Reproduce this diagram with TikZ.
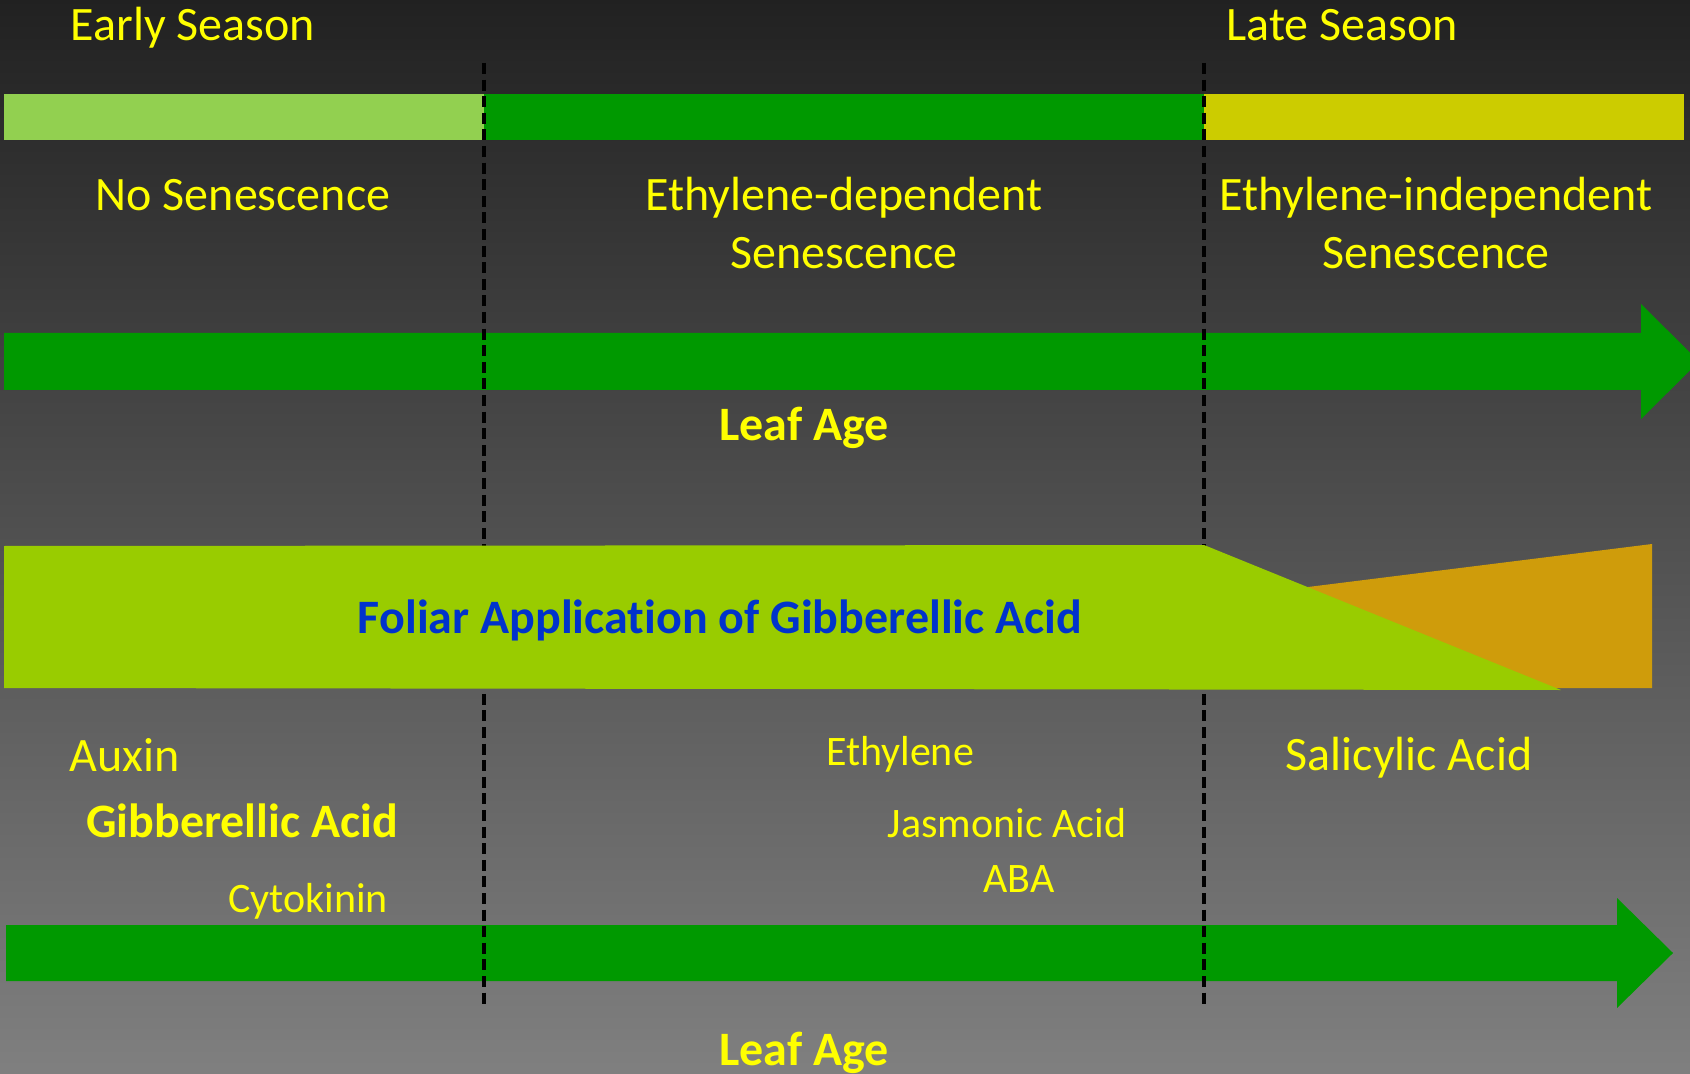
\documentclass[tikz,border=0pt]{standalone}
\usepackage{fontspec}
\setmainfont{Carlito}[Ligatures=NoCommon]
\definecolor{earlygreen}{HTML}{92D050}
\definecolor{leafgreen}{HTML}{009900}
\definecolor{lateyellow}{HTML}{CCCC00}
\definecolor{bandgreen}{HTML}{99CC00}
\definecolor{bandorange}{HTML}{CF9C0B}
\definecolor{gablue}{HTML}{0033CC}
\definecolor{textyellow}{HTML}{FFFF00}
\tikzset{
  big/.style={text=textyellow,inner sep=0,anchor=base,font=\fontsize{24}{29}\selectfont},
  small/.style={text=textyellow,inner sep=0,anchor=base,font=\fontsize{21}{25}\selectfont},
  bold/.style={big,font=\fontsize{24}{29}\selectfont\bfseries},
  divider/.style={black,line width=2pt,dash pattern=on 5.5pt off 2.8pt}
}
\begin{document}
\begin{tikzpicture}[x=0.5pt,y=-0.5pt]
	\clip (0,0) rectangle (1690,1074);
	% background
	\shade[top color=black!87,bottom color=black!50] (0,0) rectangle (1690,1074);
	% season bar
	\fill[earlygreen] (4,94) rectangle (484,140);
	\fill[leafgreen] (484,94) rectangle (1204,140);
	\fill[lateyellow] (1204,94) rectangle (1684,140);
	% leaf age arrows
	\fill[leafgreen] (4,333) -- (1641,333) -- (1641,304) -- (1699,361.5) -- (1641,419) -- (1641,390) -- (4,390) -- cycle;
	\fill[leafgreen] (6,925) -- (1617,925) -- (1617,898) -- (1673,953) -- (1617,1008) -- (1617,981) -- (6,981) -- cycle;
	% dividers
	\draw[divider] (484,63) -- (484,1006);
	\draw[divider] (1204,63) -- (1204,1006);
	% foliar application band
	\fill[bandorange] (1204,688) -- (1204,600) -- (1652,544) -- (1652,688) -- cycle;
	\fill[bandgreen] (4,546) -- (1204,545) -- (1561,690) -- (4,688) -- cycle;
	% labels
	\node[big] (early) at (193,41) {Early Season};
	\node[big] (late) at (1342,41) {Late Season};
	\node[big] (nosen) at (243,211) {No Senescence};
	\node[big,align=center] (ethdep) at (844,269) {Ethylene-dependent\\Senescence};
	\node[big,align=center] (ethind) at (1436,269) {Ethylene-independent\\Senescence};
	\node[bold] (age1) at (804,441) {Leaf Age};
	\node[bold,text=gablue] (foliar) at (720,633) {Foliar Application of Gibberellic Acid};
	\node[big] (auxin) at (125,771) {Auxin};
	\node[bold] (ga) at (242,837) {Gibberellic Acid};
	\node[small] (cyto) at (308,912) {Cytokinin};
	\node[small] (eth) at (900,765) {Ethylene};
	\node[small] (ja) at (1007,837) {Jasmonic Acid};
	\node[small] (aba) at (1019,892) {ABA};
	\node[big] (sa) at (1409,770) {Salicylic Acid};
	\node[bold] (age2) at (804,1065) {Leaf Age};
\end{tikzpicture}
\end{document}
